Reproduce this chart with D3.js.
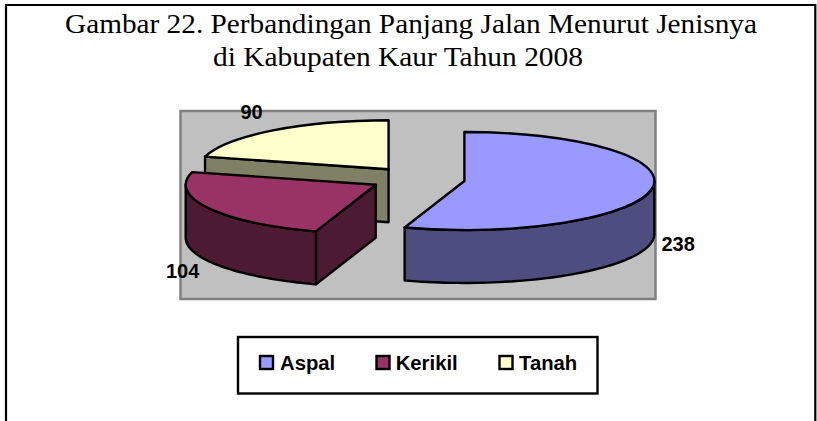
<!DOCTYPE html>
<html><head><meta charset="utf-8">
<script src="https://cdn.jsdelivr.net/npm/d3@7"></script>
<style>html,body{margin:0;padding:0;background:#fff}svg{display:block}</style>
</head><body><svg id="c" width="817" height="421"></svg>
<script>
const categories = ["Aspal", "Kerikil", "Tanah"];
const values = [238, 104, 90];
const topColors = ["#9999FF", "#993366", "#FFFFCC"];
const sideColors = ["#4D4D80", "#4D1A33", "#808066"];
const titleLines = ["Gambar 22. Perbandingan Panjang Jalan Menurut Jenisnya", "di Kabupaten Kaur Tahun 2008"];

const svg = d3.select("#c");
const rx = 190, ry = 49, depth = 53, explode = 0.25, cx = 417.5, cy = 179;

svg.append("path").attr("d", "M6,421V5H815.3V421").attr("fill", "none").attr("stroke", "#000").attr("stroke-width", 2.2);

const titleAttrs = [[411, 33, 692], [398, 66, 370]];
titleLines.forEach((t, i) => {
  svg.append("text").attr("x", titleAttrs[i][0]).attr("y", titleAttrs[i][1]).attr("text-anchor", "middle")
    .attr("font-family", "Liberation Serif").attr("font-size", 27.5)
    .attr("textLength", titleAttrs[i][2]).attr("lengthAdjust", "spacingAndGlyphs").text(t);
});

svg.append("rect").attr("x", 180.5).attr("y", 111).attr("width", 475).attr("height", 188)
  .attr("fill", "#C0C0C0").attr("stroke", "#808080").attr("stroke-width", 2.5);

const pie = d3.pie().sort(null)(values);
const arc = d3.arc().innerRadius(0).outerRadius(rx);
const px = a => Math.sin(a) * rx, py = a => -Math.cos(a) * ry;
const line = d3.line();
const g = svg.append("g").attr("stroke", "#000").attr("stroke-width", 2.4).attr("stroke-linejoin", "round");

function drawSlice(d) {
  const i = d.index, mid = (d.startAngle + d.endAngle) / 2;
  const ox = cx + explode * px(mid), oy = cy + explode * py(mid);
  const s = g.append("g").attr("transform", `translate(${ox},${oy})`);
  // radial wall on the starting edge, visible for the two left-hand slices
  if (i > 0) {
    const a = d.startAngle;
    s.append("path").attr("fill", sideColors[i])
      .attr("d", line([[0, 0], [px(a), py(a)], [px(a), py(a) + depth], [0, depth]]) + "Z");
  }
  // outer wall (front half of the rim only)
  const a0 = Math.max(d.startAngle, Math.PI / 2), a1 = Math.min(d.endAngle, 3 * Math.PI / 2);
  if (a1 > a0) {
    const angles = d3.range(0, 61).map(k => a0 + (a1 - a0) * k / 60);
    const upper = angles.map(a => [px(a), py(a)]);
    const lower = angles.slice().reverse().map(a => [px(a), py(a) + depth]);
    s.append("path").attr("fill", sideColors[i]).attr("d", line(upper.concat(lower)) + "Z");
  }
  // top surface
  s.append("path").attr("fill", topColors[i]).attr("transform", `scale(1,${ry / rx})`)
    .attr("vector-effect", "non-scaling-stroke").attr("d", arc(d));
}
[pie[2], pie[0], pie[1]].forEach(drawSlice);

const labelPos = [[661.5, 251], [166, 278], [240.5, 119]];
svg.selectAll(".lbl").data(values).join("text").attr("class", "lbl")
  .attr("x", (d, i) => labelPos[i][0]).attr("y", (d, i) => labelPos[i][1])
  .attr("font-family", "Liberation Sans").attr("font-weight", "bold").attr("font-size", 20).text(d => d);

svg.append("rect").attr("x", 238).attr("y", 337).attr("width", 359.5).attr("height", 56.5)
  .attr("fill", "#fff").attr("stroke", "#000").attr("stroke-width", 2.4);
const swatchX = [260, 376.5, 499.5], textX = [280, 395.7, 519];
categories.forEach((c, i) => {
  svg.append("rect").attr("x", swatchX[i]).attr("y", 356).attr("width", 13).attr("height", 13)
    .attr("fill", topColors[i]).attr("stroke", "#000").attr("stroke-width", 2.4);
  svg.append("text").attr("x", textX[i]).attr("y", 370)
    .attr("font-family", "Liberation Sans").attr("font-weight", "bold").attr("font-size", 20.3).text(c);
});
</script></body></html>
